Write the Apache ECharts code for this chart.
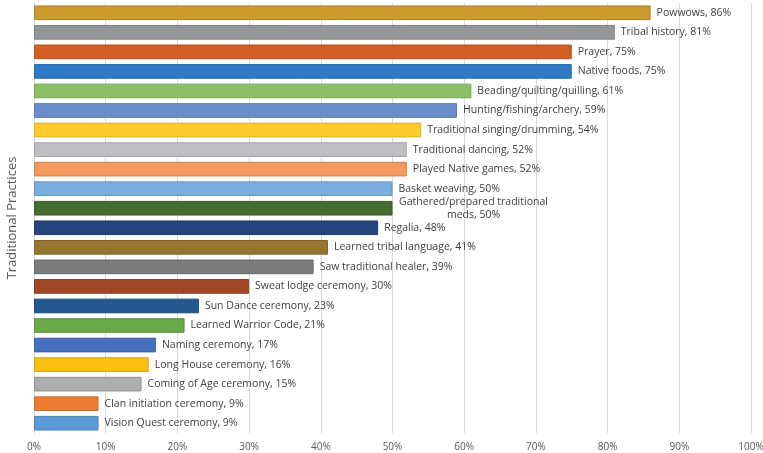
<!DOCTYPE html>
<html><head><meta charset="utf-8">
<script src="https://cdn.jsdelivr.net/npm/echarts@6/dist/echarts.min.js"></script>
<style>html,body{margin:0;padding:0;background:#fff}#c{width:763px;height:453px}</style>
</head><body><div id="c"></div>
<script>
const categories = ["Powwows","Tribal history","Prayer","Native foods","Beading/quilting/quilling","Hunting/fishing/archery","Traditional singing/drumming","Traditional dancing","Played Native games","Basket weaving","Gathered/prepared traditional\nmeds","Regalia","Learned tribal language","Saw traditional healer","Sweat lodge ceremony","Sun Dance ceremony","Learned Warrior Code","Naming ceremony","Long House ceremony","Coming of Age ceremony","Clan initiation ceremony","Vision Quest ceremony"];
const values = [86,81,75,75,61,59,54,52,52,50,50,48,41,39,30,23,21,17,16,15,9,9];
const colors = ["#CA9A2D","#94979A","#D45F25","#2F7BC4","#8BC067","#6A8ECB","#FFCC2E","#BEBFC2","#F29B5C","#7AAEE0","#456D32","#24467D","#957530","#7A7C7E","#A04826","#22598F","#6AAA46","#4470BE","#FBBE13","#ABADAF","#ED7D31","#5B9BD5"];
const xTicks = [0,10,20,30,40,50,60,70,80,90,100];

function darken(hex, f){
  const n=parseInt(hex.slice(1),16);
  const r=Math.round(((n>>16)&255)*f),g=Math.round(((n>>8)&255)*f),b=Math.round((n&255)*f);
  return 'rgb('+r+','+g+','+b+')';
}
const chart = echarts.init(document.getElementById('c'));
chart.setOption({
  animation:false,
  grid:{left:34,right:12,top:3,bottom:20,containLabel:false,outerBoundsMode:'none'},
  xAxis:{type:'value',min:xTicks[0],max:xTicks[xTicks.length-1],interval:10,
    axisLabel:{formatter:v=>v+'%',color:'#595959',fontSize:10,fontFamily:'Open Sans',margin:9},
    splitLine:{lineStyle:{color:'#D9D9D9',width:1}},
    axisLine:{show:false},axisTick:{show:false}},
  yAxis:{type:'category',data:categories,inverse:true,
    name:'Traditional Practices',nameLocation:'middle',nameGap:15,nameRotate:90,
    nameTextStyle:{color:'#595959',fontSize:13,fontFamily:'Open Sans'},
    axisLabel:{show:false},axisTick:{show:false},
    axisLine:{show:true,lineStyle:{color:'#D9D9D9',width:1}}},
  series:[{type:'bar',barCategoryGap:'25%',
    data:values.map((v,i)=>({value:v,itemStyle:{color:colors[i],borderColor:darken(colors[i],0.85),borderWidth:1}})),
    label:{show:true,position:'right',distance:6,color:'#404040',fontSize:10.5,fontFamily:'Open Sans',
      formatter:p=>p.name.indexOf('\n')>=0?'{c|'+p.name.replace('\n','}\n{c|')+', '+p.value+'%}':p.name+', '+p.value+'%',
      rich:{c:{align:'center',width:150,color:'#404040',fontSize:10.5,fontFamily:'Open Sans',lineHeight:13}}}
  }]
});
</script></body></html>
